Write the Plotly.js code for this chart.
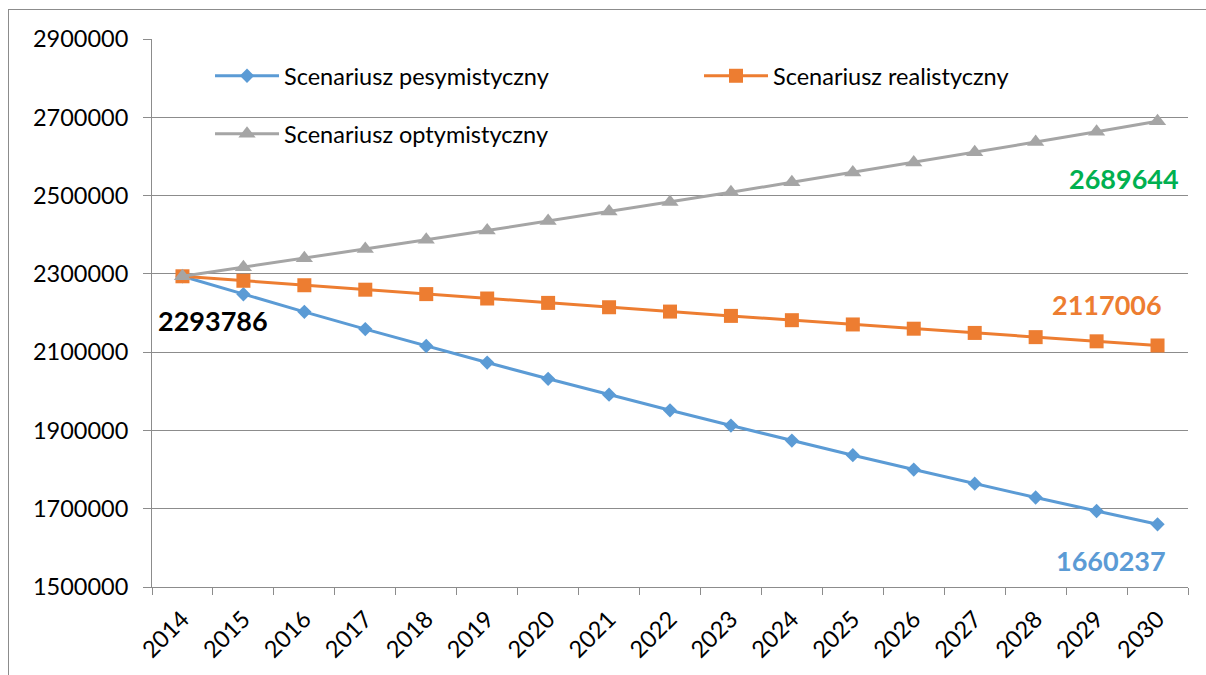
<!DOCTYPE html>
<html>
<head>
<meta charset="utf-8">
<script src="https://cdn.plot.ly/plotly-3.0.1.min.js"></script>
<style>
  html, body { margin: 0; padding: 0; background: #ffffff; overflow: hidden; }
  #frame { position: absolute; left: 8px; top: 9px; width: 1400px; height: 900px;
           border-left: 1px solid #8c8c8c; border-top: 1px solid #8c8c8c; }
  #chart { position: absolute; left: 0; top: 0; width: 1206px; height: 675px; }
</style>
</head>
<body>
<div id="frame"></div>
<div id="chart"></div>
<script>
// ---- data ----
const years = ['2014','2015','2016','2017','2018','2019','2020','2021','2022',
               '2023','2024','2025','2026','2027','2028','2029','2030'];

const pesymistyczny = [2293786, 2247910, 2202952, 2158893, 2115715, 2073401, 2031933,
  1991294, 1951468, 1912439, 1874190, 1836706, 1799972, 1763973, 1728693, 1694120, 1660237];

const realistyczny = [2293786, 2282317, 2270906, 2259551, 2248253, 2237012, 2225827,
  2214698, 2203624, 2192606, 2181643, 2170735, 2159881, 2149082, 2138336, 2127645, 2117006];

const optymistyczny = [2293786, 2316724, 2339891, 2363290, 2386923, 2410792, 2434900,
  2459249, 2483842, 2508680, 2533767, 2559104, 2584695, 2610542, 2636648, 2663014, 2689644];

const seriesNames = ['Scenariusz pesymistyczny', 'Scenariusz realistyczny', 'Scenariusz optymistyczny'];

// ---- styles ----
const FONT = 'Lato, "Open Sans", "Noto Sans", sans-serif';
const FS = 23.5;
const BLUE = '#5B9BD5', ORANGE = '#ED7D31', GRAY = '#A5A5A5', GREEN = '#00B050';
const AXIS = '#8c8c8c';

const traces = [
  {
    x: years, y: pesymistyczny, name: seriesNames[0], type: 'scatter', mode: 'lines+markers',
    line: {color: BLUE, width: 3}, marker: {symbol: 'diamond', size: 11, color: BLUE},
    legend: 'legend'
  },
  {
    x: years, y: realistyczny, name: seriesNames[1], type: 'scatter', mode: 'lines+markers',
    line: {color: ORANGE, width: 3}, marker: {symbol: 'square', size: 14, color: ORANGE},
    legend: 'legend3'
  },
  {
    x: years, y: optymistyczny, name: seriesNames[2], type: 'scatter', mode: 'lines+markers',
    line: {color: GRAY, width: 3}, marker: {symbol: 'triangle-up', size: 15, color: GRAY},
    legend: 'legend2'
  }
];

// annotations on a category axis use the category index
const last = years.length - 1;
const labelFont = (c) => ({family: FONT, size: 27, color: c, weight: 'bold'});
const annotations = [
  {x: 0, y: pesymistyczny[0], text: String(pesymistyczny[0]), showarrow: false,
   xshift: 31, yshift: -44, font: labelFont('#000000')},
  {x: last, y: optymistyczny[last], text: String(optymistyczny[last]), showarrow: false,
   xshift: -34, yshift: -57, font: labelFont(GREEN)},
  {x: last, y: realistyczny[last], text: String(realistyczny[last]), showarrow: false,
   xshift: -51, yshift: 41, font: labelFont(ORANGE)},
  {x: last, y: pesymistyczny[last], text: String(pesymistyczny[last]), showarrow: false,
   xshift: -47, yshift: -36, font: labelFont(BLUE)}
];

const legendBase = {
  orientation: 'h', xanchor: 'left', yanchor: 'middle', itemwidth: 64,
  bgcolor: 'rgba(0,0,0,0)', font: {family: FONT, size: FS, color: '#000000'}
};

const layout = {
  width: 1206, height: 675,
  margin: {l: 152, r: 18, t: 39, b: 88},
  paper_bgcolor: 'rgba(0,0,0,0)',
  plot_bgcolor: 'rgba(0,0,0,0)',
  font: {family: FONT, size: FS, color: '#000000'},
  showlegend: true,
  xaxis: {
    type: 'category', range: [-0.5, 16.5], fixedrange: true,
    showgrid: false, zeroline: false,
    showline: true, linecolor: AXIS, linewidth: 1,
    ticks: 'outside', tickson: 'boundaries', ticklen: 7, tickcolor: AXIS,
    ticklabelstandoff: 8,
    tickangle: -45, tickfont: {family: FONT, size: FS, color: '#000000'}
  },
  yaxis: {
    range: [1500000, 2900000], dtick: 200000, tick0: 1500000, tickformat: 'd',
    showgrid: true, gridcolor: AXIS, gridwidth: 1, zeroline: false,
    showline: true, linecolor: AXIS, linewidth: 1,
    ticks: 'outside', ticklen: 8, tickcolor: AXIS, ticklabelstandoff: 10,
    tickfont: {family: FONT, size: FS, color: '#000000'}
  },
  legend:  Object.assign({}, legendBase, {x: 0.0560, y: 0.9325}),
  legend3: Object.assign({}, legendBase, {x: 0.5280, y: 0.9325}),
  legend2: Object.assign({}, legendBase, {x: 0.0560, y: 0.8266}),
  annotations: annotations
};

Plotly.newPlot('chart', traces, layout, {displayModeBar: false, staticPlot: true});
</script>
</body>
</html>
